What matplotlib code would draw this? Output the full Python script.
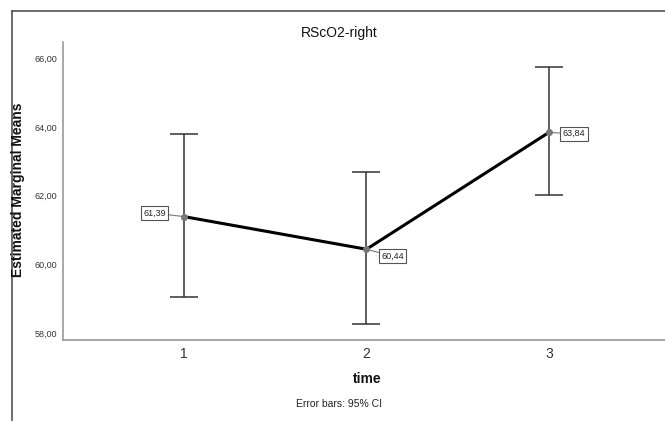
import matplotlib
matplotlib.use('Agg')
import matplotlib.pyplot as plt
from matplotlib.lines import Line2D

plt.rcParams['font.family'] = ['Liberation Sans', 'DejaVu Sans']

# values
times = [1, 2, 3]
time_labels = ['1', '2', '3']
means = [61.39, 60.44, 63.84]
ci_low = [59.05, 58.26, 62.03]
ci_high = [63.80, 62.70, 65.74]
mean_labels = ['61,39', '60,44', '63,84']
y_ticks = [58, 60, 62, 64, 66]
y_tick_labels = ['58,00', '60,00', '62,00', '64,00', '66,00']

W, H = 665, 421
fig = plt.figure(figsize=(W / 100, H / 100), dpi=100)

def fx(px):
    return px / W

def fy(py):
    return 1 - py / H

ax = fig.add_axes([fx(63), fy(340), fx(665) - fx(63), fy(42) - fy(340)])

# outer chart frame (left and top edges)
fig.add_artist(Line2D([fx(12), fx(12)], [fy(11), 0], color='#444444', lw=1.1))
fig.add_artist(Line2D([fx(12), 1], [fy(11), fy(11)], color='#444444', lw=1.1))

ax.plot(times, means, color='black', lw=2.2, zorder=3)
ax.errorbar(times, means,
            yerr=[[m - lo for m, lo in zip(means, ci_low)],
                  [hi - m for m, hi in zip(means, ci_high)]],
            fmt='none', ecolor='#333333', elinewidth=1.1, capsize=10.4, capthick=1.1, zorder=2)
ax.plot(times, means, 'o', color='#777777', ms=4, zorder=4)

# data labels with leader lines
offsets = [(-21, 2.5), (18.7, -5), (18, -1)]
for x, m, lab, (dx, dy) in zip(times, means, mean_labels, offsets):
    ax.annotate(lab, xy=(x, m), xytext=(dx, dy), textcoords='offset points',
                fontsize=6.5, ha='center', va='center', color='#222222',
                bbox=dict(boxstyle='square,pad=0.25', fc='white', ec='#555555', lw=0.8),
                arrowprops=dict(arrowstyle='-', color='#777777', lw=0.8, shrinkA=0, shrinkB=0))

ax.set_xlim(0.337, 3.636)
ax.set_ylim(57.8, 66.47)
ax.set_xticks(times)
ax.set_xticklabels(time_labels, fontsize=10, color='#333333')
ax.set_yticks(y_ticks)
ax.set_yticklabels(y_tick_labels, fontsize=6.5, color='#333333')
ax.tick_params(length=0, pad=4, axis='y')
ax.tick_params(length=0, pad=5, axis='x')

for s in ['top', 'right']:
    ax.spines[s].set_visible(False)
for s in ['left', 'bottom']:
    ax.spines[s].set_color('#999999')
    ax.spines[s].set_linewidth(1.2)

fig.text(fx(339), fy(33), 'RScO2-right', ha='center', va='center', fontsize=10, color='#111111')
fig.text(fx(18), fy(190), 'Estimated Marginal Means', ha='center', va='center',
         rotation=90, fontsize=10, fontweight='bold', color='#111111')
fig.text(fx(367), fy(379), 'time', ha='center', va='center', fontsize=10,
         fontweight='bold', color='#111111')
fig.text(fx(339), fy(404), 'Error bars: 95% CI', ha='center', va='center', fontsize=7.5, color='#222222')

fig.savefig('out.png', dpi=100)
